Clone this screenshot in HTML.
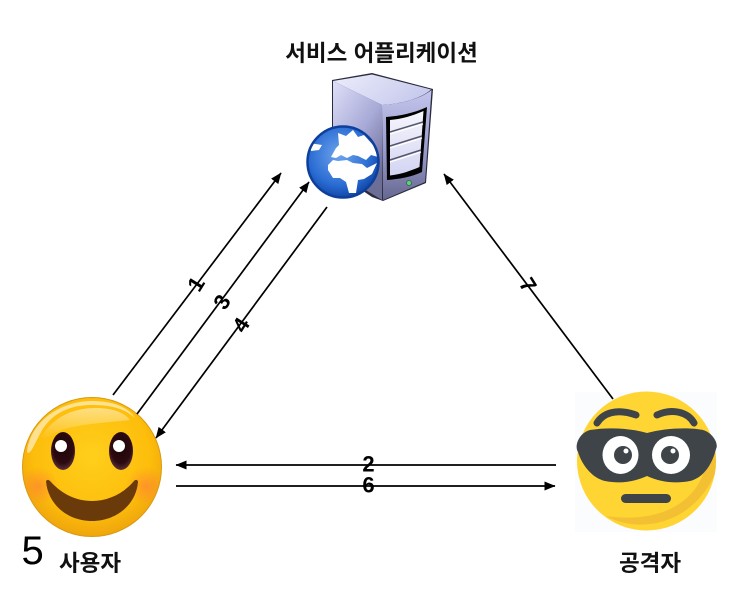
<!DOCTYPE html>
<html><head><meta charset="utf-8"><style>
html,body{margin:0;padding:0;background:#fff;width:739px;height:608px;overflow:hidden}
svg{display:block}
.k{font-family:"Liberation Sans","Noto Sans CJK KR",sans-serif;font-size:22.5px;font-weight:700;fill:#111;text-anchor:middle}
.n{font-family:"Liberation Sans",sans-serif;font-size:22px;font-weight:700;fill:#000;text-anchor:middle;dominant-baseline:central}
</style></head><body>
<svg width="739" height="608" viewBox="0 0 739 608" xmlns="http://www.w3.org/2000/svg">
<defs>
<linearGradient id="sf" x1="0" y1="0" x2="0.6" y2="1"><stop offset="0" stop-color="#dfe0f8"/><stop offset=".55" stop-color="#a9abd8"/><stop offset="1" stop-color="#6d6e96"/></linearGradient>
<linearGradient id="sr" x1="0" y1="0" x2="0" y2="1"><stop offset="0" stop-color="#c4c6ee"/><stop offset=".6" stop-color="#9496c6"/><stop offset="1" stop-color="#66678f"/></linearGradient>
<linearGradient id="st" x1="0" y1="0" x2="1" y2="0.4"><stop offset="0" stop-color="#eceDfa"/><stop offset="1" stop-color="#c9cbee"/></linearGradient>
<linearGradient id="bay" x1="0" y1="0" x2="0" y2="1"><stop offset="0" stop-color="#f6f6fc"/><stop offset="1" stop-color="#d3d4f2"/></linearGradient>
<radialGradient id="gl" cx=".45" cy=".4" r=".65"><stop offset="0" stop-color="#6ea4ec"/><stop offset=".65" stop-color="#2a6cd3"/><stop offset="1" stop-color="#0b3c9c"/></radialGradient>
<radialGradient id="sm" cx=".5" cy=".42" r=".6"><stop offset="0" stop-color="#ffcf1c"/><stop offset=".7" stop-color="#fdbd0b"/><stop offset="1" stop-color="#eda20c"/></radialGradient>
<radialGradient id="ck" cx=".5" cy=".5" r=".5"><stop offset="0" stop-color="#ff8036" stop-opacity=".65"/><stop offset="1" stop-color="#ff8036" stop-opacity="0"/></radialGradient>
<linearGradient id="hl" x1="0" y1="0" x2="0" y2="1"><stop offset="0" stop-color="#fff" stop-opacity=".8"/><stop offset="1" stop-color="#fff" stop-opacity=".05"/></linearGradient>
<radialGradient id="ey" cx=".5" cy=".4" r=".6"><stop offset="0" stop-color="#1e0508"/><stop offset=".7" stop-color="#2c0a10"/><stop offset="1" stop-color="#5a3038"/></radialGradient>
<clipPath id="bc"><circle cx="646.500" cy="461" r="69.500"/></clipPath>
<clipPath id="sc"><circle cx="92" cy="467" r="69"/></clipPath>
<marker id="a" markerUnits="userSpaceOnUse" markerWidth="12" markerHeight="10" refX="10.500" refY="4.500" orient="auto"><path d="M0 0L11 4.500L0 9Z" fill="#000"/></marker>
</defs>

<text class="k" x="381.500" y="61">서비스 어플리케이션</text>

<!-- server -->
<path d="M332 80L372 73L433 89L426 183L383 201L372 197L332 170Z" fill="#2a2b3d"/>
<path d="M333 81L372 74.500L431 89.500C422 98 402 104 382 105L333 81Z" fill="url(#st)"/>
<path d="M333 81L382 105L382 200L333 170Z" fill="url(#sf)"/>
<path d="M382 105C402 104 422 98 431.500 90L425 182L383 200Z" fill="url(#sr)"/>
<path d="M386 117C400 116 414 113 427 107L422 172C411 177 400 179 387 180Z" fill="#000"/>
<path d="M390 120C402 119 412 116 423.500 111L419.500 167C410 171 402 174 390 175.500Z" fill="url(#bay)"/>
<path d="M390 132L423 122M390 146L422 136M390 160L421 150" stroke="#55566f" stroke-width="1.500" fill="none"/>
<path d="M390 134L423 124M390 148L422 138M390 162L421 152" stroke="#fff" stroke-width="1.200" fill="none"/>
<circle cx="409" cy="183" r="2.500" fill="#5fd07a" stroke="#2f6a45" stroke-width=".8"/>

<!-- globe -->
<circle cx="343" cy="162" r="36" fill="url(#gl)"/>
<path d="M331 157L336 148L339 145L338 133L346 136L353 130L358 137L364 135L373 145L378 157L371 155L366 160L358 156L353 155L347 158L341 155L336 158Z" fill="#fff"/>
<path d="M328 165L333 160L338 161L347 160L353 163L362 164L367 168L377 163L372 174L364 179L358 180L356 193L349 193L346 182L340 178L333 178L328 170Z" fill="#fff"/>
<path d="M309 143L322 145L319 150L311 151Z" fill="#fff"/>
<circle cx="343" cy="162" r="35.500" fill="none" stroke="#0d3f9b" stroke-width="2.500"/>

<!-- smiley -->
<circle cx="92" cy="467" r="69.500" fill="url(#sm)" stroke="#d99a12" stroke-width="1"/>
<g clip-path="url(#sc)">
<ellipse cx="38" cy="486" rx="20" ry="19" fill="url(#ck)"/>
<ellipse cx="146" cy="486" rx="20" ry="19" fill="url(#ck)"/>
</g>
<path d="M27 452C30 422 60 401 92 401C113 401 128 407 135 418C124 408 110 405 92 405C64 405 48 418 40 434C34 445 30 456 27 452Z" fill="#fff" opacity=".55"/>
<path d="M42 436C54 416 75 408 95 408C112 408 124 412 130 420C115 422 70 424 55 433C48 437 42 441 42 436Z" fill="url(#hl)" opacity=".6"/>
<ellipse cx="63" cy="451" rx="12" ry="19" fill="url(#ey)"/>
<ellipse cx="121" cy="451" rx="12" ry="19" fill="url(#ey)"/>
<circle cx="61" cy="446" r="6" fill="#fff"/>
<circle cx="119" cy="446" r="6" fill="#fff"/>
<path d="M46 481C48 479 49 480 51 482C62 494 76 501 92 501C108 501 123 494 134 481C136 479 138 480 138 482C136 505 116 521 92 521C68 521 48 505 46 481Z" fill="#6b3a0a"/>

<!-- bandit -->
<rect x="575" y="392" width="142" height="140" fill="#f4f7fb" opacity=".35"/>
<circle cx="646.500" cy="461" r="69.500" fill="#ffd534"/>
<g clip-path="url(#bc)"><path d="M700 425C722 470 690 528 606 516C640 535 700 525 720 461Z" fill="#f4c033"/></g>
<path d="M597 423C603 413 617 408 636 415M657 415C672 408 688 412 694 423" fill="none" stroke="#3f4448" stroke-width="7" stroke-linecap="round"/>
<path d="M590 430C608 427 630 428 647 433C664 428 690 427 703 430C713 433 719 444 716 449C712 465 703 478 690 481C675 484 660 482 647 476C634 482 620 484 605 481C592 478 582 465 578 452C574 446 579 433 590 430Z" fill="#3f4448"/>
<ellipse cx="620.500" cy="455" rx="18" ry="19" fill="#fff"/>
<ellipse cx="671" cy="455" rx="19" ry="19" fill="#fff"/>
<circle cx="623" cy="455" r="9" fill="#3f4448"/>
<circle cx="670" cy="455" r="9" fill="#3f4448"/>
<circle cx="626" cy="451" r="2.500" fill="#fff"/>
<circle cx="673" cy="451" r="2.500" fill="#fff"/>
<rect x="621" y="494" width="50" height="9" rx="4.500" fill="#3f4448"/>

<!-- connectors -->
<g stroke="#000" stroke-width="1.700" fill="none" marker-end="url(#a)">
<line x1="113" y1="395" x2="281" y2="173"/>
<line x1="137" y1="414" x2="309" y2="182"/>
<line x1="327" y1="207" x2="156" y2="438"/>
<line x1="613" y1="399" x2="444" y2="174"/>
<line x1="556" y1="465" x2="176" y2="465"/>
<line x1="176" y1="486" x2="555" y2="486"/>
</g>

<text class="n" transform="translate(196 284) rotate(-58)" x="0" y="0">1</text>
<text class="n" transform="translate(222 302) rotate(-58)" x="0" y="0">3</text>
<text class="n" transform="translate(241 325) rotate(-58)" x="0" y="0">4</text>
<text class="n" transform="translate(528 285) rotate(58)" x="0" y="0">7</text>
<text class="n" x="368.500" y="464">2</text>
<text class="n" x="368.500" y="485">6</text>

<text x="21.500" y="564" font-family="'Liberation Sans',sans-serif" font-size="40" fill="#000">5</text>
<text class="k" x="90" y="571">사용자</text>
<text class="k" x="650" y="571">공격자</text>
</svg>
</body></html>
